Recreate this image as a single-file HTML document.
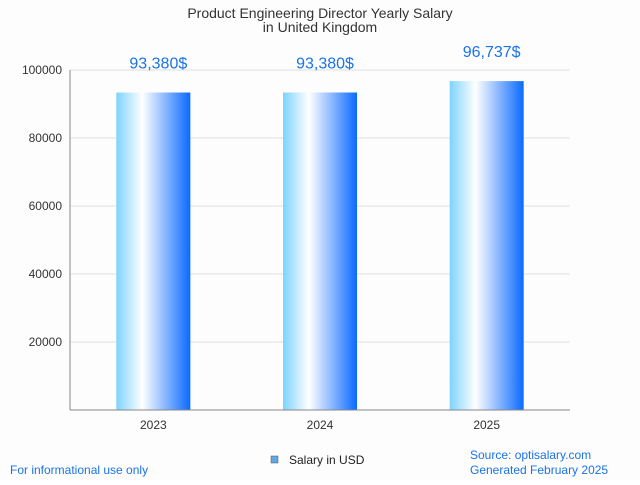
<!DOCTYPE html>
<html><head><meta charset="utf-8"><style>
body{margin:0;background:#fff;font-family:"Liberation Sans",sans-serif;}
</style></head><body>
<svg width="640" height="480" xmlns="http://www.w3.org/2000/svg" font-family="Liberation Sans, sans-serif">
<defs><linearGradient id="g" x1="0" x2="1" y1="0" y2="0">
<stop offset="0" stop-color="#7dd3ff"/><stop offset="0.35" stop-color="#ffffff"/><stop offset="1" stop-color="#0a6aff"/></linearGradient></defs>
<rect width="640" height="480" fill="#fdfdfd"/>
<text x="320" y="18" text-anchor="middle" font-size="14" fill="#333">Product Engineering Director Yearly Salary</text>
<text x="320" y="32" text-anchor="middle" font-size="14" fill="#333">in United Kingdom</text>
<g id="grid"></g><g id="bars"></g>
<line x1="70" y1="70" x2="70" y2="410" stroke="#888"/>
<line x1="70" y1="410" x2="570" y2="410" stroke="#888"/>
<rect x="271" y="456" width="7" height="7" fill="#5ea8e8" stroke="#555" stroke-width="0.5"/>
<text x="289" y="464" font-size="12" fill="#222">Salary in USD</text>
<text x="10" y="474" font-size="12" fill="#1a73e8">For informational use only</text>
<text x="470" y="459" font-size="12" fill="#1a73e8">Source: optisalary.com</text>
<text x="470" y="474" font-size="12" fill="#1a73e8">Generated February 2025</text>
</svg>
<script>
const categories=["2023","2024","2025"];
const values=[93380,93380,96737];
const valueLabels=["93,380$","93,380$","96,737$"];
const yTicks=[20000,40000,60000,80000,100000];
const ns="http://www.w3.org/2000/svg";
const y=v=>410-v/100000*340;
const x=i=>70+(i+0.5)*500/categories.length;
function mk(t,a,p){const e=document.createElementNS(ns,t);for(const k in a)e.setAttribute(k,a[k]);p.appendChild(e);return e;}
const grid=document.getElementById('grid'),bars=document.getElementById('bars');
yTicks.forEach(t=>{
const l=mk('line',{x1:70,x2:570,y1:y(t),y2:y(t),stroke:'#e0e0e0'},grid);


const tx=mk('text',{x:62,y:y(t)+4,'text-anchor':'end','font-size':12,fill:'#333'},grid);
tx.textContent=t;


});
categories.forEach((c,i)=>{
const b=mk('rect',{x:x(i)-37,y:y(values[i]),width:74,height:410-y(values[i]),fill:'url(#g)'},bars);


const v=mk('text',{x:x(i)+5,y:y(values[i])-24,'text-anchor':'middle','font-size':16,fill:'#1a73e8'},bars);
v.textContent=valueLabels[i];


const t=mk('text',{x:x(i),y:429,'text-anchor':'middle','font-size':12,fill:'#333'},bars);
t.textContent=c;


});
</script>
</body></html>
